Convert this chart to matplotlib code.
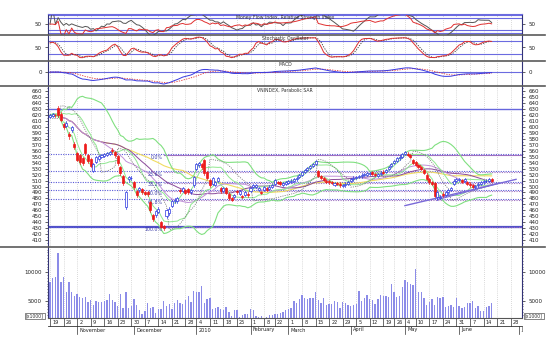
import numpy as np
import pandas as pd
import matplotlib.pyplot as plt
from matplotlib.lines import Line2D
from matplotlib.patches import Rectangle

# daily VNINDEX bars, 19 Oct 2009 .. 17 Jun 2010
opens = [
    616, 618, 620, 632, 622, 604, 602, 588, 594, 572,
    556, 553, 548, 571, 552, 546, 526, 541, 546, 549,
    551, 553, 555, 562, 558, 551, 532, 518, 465, 512,
    514, 507, 492, 494, 496, 491, 490, 474, 452, 452,
    458, 441, 434, 450, 456, 468, 475, 476, 494, 493,
    494, 496, 490, 502, 530, 536, 537, 544, 524, 511,
    505, 503, 510, 498, 493, 497, 488, 480, 482, 493,
    488, 484, 486, 488, 492, 499, 500, 495, 491, 494,
    497, 496, 499, 505, 508, 507, 503, 505, 506, 508,
    510, 512, 516, 520, 525, 528, 531, 534, 538, 526,
    518, 514, 510, 509, 508, 503, 506, 505, 501, 502,
    505, 509, 512, 514, 516, 517, 519, 520, 521, 524,
    521, 518, 521, 525, 524, 529, 534, 539, 543, 547,
    550, 554, 555, 552, 544, 541, 536, 532, 527, 520,
    512, 508, 506, 482, 481, 488, 486, 490, 494, 505,
    509, 511, 511, 510, 508, 505, 502, 499, 502, 505,
    507, 509, 510, 512]
closes = [
    619, 621, 619, 620, 611, 600, 607, 585, 599, 566,
    545, 541, 539, 556, 542, 535, 538, 549, 551, 552,
    554, 556, 558, 559, 552, 539, 522, 506, 490, 516,
    515, 499, 486, 497, 490, 488, 487, 461, 445, 459,
    463, 433, 431, 460, 463, 476, 478, 480, 492, 497,
    489, 490, 494, 516, 538, 539, 533, 522, 514, 502,
    514, 507, 514, 492, 497, 489, 480, 478, 486, 490,
    492, 482, 490, 485, 497, 503, 502, 498, 489, 499,
    494, 500, 502, 511, 506, 505, 506, 507, 509, 510,
    512, 515, 519, 524, 528, 531, 534, 538, 543, 518,
    515, 511, 508, 507, 506, 506, 504, 502, 503, 505,
    508, 513, 515, 516, 518, 520, 521, 522, 523, 521,
    519, 521, 523, 523, 528, 533, 538, 543, 547, 550,
    554, 557, 553, 549, 539, 536, 533, 529, 523, 513,
    507, 505, 484, 491, 483, 485, 491, 494, 497, 510,
    512, 513, 508, 512, 505, 502, 500, 501, 505, 508,
    509, 510, 512, 510]
highs = [
    621, 623, 622, 635, 624, 606, 609, 592, 601, 574,
    558, 555, 550, 573, 554, 548, 540, 551, 553, 554,
    556, 558, 560, 564, 560, 553, 534, 520, 493, 518,
    517, 509, 494, 499, 498, 493, 492, 476, 454, 461,
    465, 443, 436, 462, 465, 478, 480, 482, 496, 499,
    496, 498, 496, 518, 540, 541, 539, 546, 526, 513,
    516, 509, 516, 500, 499, 499, 490, 482, 488, 495,
    494, 486, 492, 490, 499, 505, 504, 500, 493, 501,
    499, 502, 504, 513, 510, 509, 508, 509, 511, 512,
    514, 517, 521, 526, 530, 533, 536, 540, 545, 528,
    520, 516, 512, 511, 510, 508, 508, 507, 505, 507,
    510, 515, 517, 518, 520, 522, 523, 524, 525, 526,
    523, 523, 525, 527, 530, 535, 540, 545, 549, 552,
    556, 559, 557, 554, 546, 543, 538, 534, 529, 522,
    514, 510, 508, 493, 485, 490, 493, 496, 499, 512,
    514, 515, 513, 514, 510, 507, 504, 503, 507, 510,
    511, 512, 514, 514]
lows = [
    614, 616, 617, 617, 609, 597, 600, 580, 592, 563,
    542, 538, 536, 553, 539, 532, 524, 539, 544, 547,
    549, 551, 553, 556, 550, 536, 519, 503, 462, 509,
    511, 496, 483, 491, 487, 485, 484, 458, 442, 449,
    455, 430, 428, 447, 453, 465, 472, 473, 489, 490,
    487, 487, 488, 500, 527, 533, 530, 520, 512, 500,
    503, 501, 508, 489, 491, 487, 478, 476, 480, 488,
    486, 480, 484, 483, 490, 497, 498, 493, 487, 492,
    492, 494, 497, 503, 504, 503, 501, 503, 504, 506,
    508, 510, 514, 518, 523, 526, 529, 532, 536, 516,
    513, 509, 506, 505, 504, 501, 502, 500, 499, 500,
    503, 507, 510, 512, 514, 515, 517, 518, 519, 519,
    517, 516, 519, 521, 522, 527, 532, 537, 541, 545,
    548, 552, 551, 547, 537, 534, 531, 527, 521, 511,
    505, 503, 482, 477, 479, 483, 484, 488, 492, 503,
    507, 509, 506, 508, 503, 500, 498, 497, 500, 503,
    505, 507, 508, 508]
volumes = [
    8350, 8930, 9110, 13330, 8350, 9110, 6590, 8230, 6470, 5880,
    6120, 5700, 5410, 5700, 4700, 5120, 4240, 4940, 4820, 4820,
    5000, 5120, 6120, 5120, 4820, 4060, 6120, 3770, 6590, 3650,
    4060, 5240, 4240, 3360, 2600, 3180, 4530, 3770, 3830, 2890,
    3480, 3590, 5000, 4060, 4410, 3530, 4530, 5120, 4650, 4410,
    5120, 5880, 4820, 6700, 6470, 6590, 7640, 4530, 5290, 5410,
    3530, 3770, 3940, 3480, 3360, 3940, 2950, 2300, 3360, 3360,
    2070, 2480, 2600, 2650, 3480, 3360, 2300, 2070, 2300, 1900,
    2100, 2500, 2400, 2600,
    2600, 2770, 3060, 3360, 3530, 3770, 4940, 4530, 5290, 6000,
    5530, 5230, 5530, 5530, 6470, 5120, 4530, 5410, 4240, 4410,
    4410, 5000, 4820, 3650, 4700, 4530, 4240, 4060, 4240, 4410,
    6700, 5000, 5530, 6000, 5290, 5120, 4410, 5230, 6000, 5820,
    5820, 5700, 7880, 6470, 5700, 5880, 7470, 8640, 8350, 7940,
    7760, 10520, 6590, 6590, 5410, 4240, 4700, 5230, 4240, 5700,
    5410, 5700, 3940, 4060, 4240, 3830, 5530, 4060, 3770, 3830,
    4530, 4650, 4940, 3650, 4060, 3180, 3180, 3830, 4060, 4530]

fib_labels = ['0.0%', '23.6%', '38.2%', '50.0%', '61.8%', '100.0%']
fib_ratios = [0.0, 0.236, 0.382, 0.5, 0.618, 1.0]
fib_high, fib_low = 555, 433
fib2_high, fib2_low, fib2_start = 552, 432, 42
hlines = [630, 432]
trend_x = [131, 172]
trend_y = [468, 512]
trend2_x = [143, 166]
trend2_y = [478, 506]

month_names = {1: '2010', 2: 'February', 3: 'March', 4: 'April', 5: 'May',
               6: 'June', 7: 'J', 11: 'November', 12: 'December'}

# trading calendar (HOSE closed on these days)
days = pd.bdate_range('2009-10-19', '2010-07-02')
closed = pd.to_datetime(['2010-01-01', '2010-02-12', '2010-02-15', '2010-02-16',
                         '2010-02-17', '2010-02-18', '2010-02-19', '2010-04-23',
                         '2010-04-30', '2010-05-03'])
days = days[~days.isin(closed)]

o = pd.Series(opens, dtype=float)
c = pd.Series(closes, dtype=float)
h = pd.Series(highs, dtype=float)
l = pd.Series(lows, dtype=float)
v = pd.Series(volumes, dtype=float)
n = len(c)
x = np.arange(n)

# indicators
def ema(s, span):
    return s.ewm(span=span, adjust=False).mean()

delta = c.diff().fillna(0)
up = delta.clip(lower=0).ewm(alpha=1/14, adjust=False).mean()
dn = (-delta.clip(upper=0)).ewm(alpha=1/14, adjust=False).mean()
rsi = 100 - 100 / (1 + up / dn.replace(0, np.nan))
rsi = rsi.fillna(50)

tp = (h + l + c) / 3
mf = tp * v
pos = mf.where(tp > tp.shift(1), 0).rolling(14, min_periods=1).sum()
neg = mf.where(tp < tp.shift(1), 0).rolling(14, min_periods=1).sum()
mfi = (100 * pos / (pos + neg)).fillna(50)

ll = l.rolling(14, min_periods=1).min()
hh = h.rolling(14, min_periods=1).max()
fast_k = 100 * (c - ll) / (hh - ll)
stoch_k = fast_k.rolling(3, min_periods=1).mean()
stoch_d = stoch_k.rolling(3, min_periods=1).mean()

macd = ema(c, 12) - ema(c, 26)
signal = ema(macd, 9)

mid = c.rolling(20, min_periods=1).mean()
sd = c.rolling(20, min_periods=1).std(ddof=0).fillna(0)
mid10 = c.rolling(10, min_periods=1).mean()
sd10 = c.rolling(10, min_periods=1).std(ddof=0).fillna(0)
ma30 = c.rolling(30, min_periods=1).mean()
ma50 = c.rolling(50, min_periods=1).mean()


def parabolic_sar(hi, lo, step=0.02, amax=0.2):
    hi, lo = hi.values, lo.values
    sar = np.zeros(len(hi))
    bull = False
    ep = lo[0]
    af = step
    sar[0] = hi[0]
    for i in range(1, len(hi)):
        s = sar[i-1] + af * (ep - sar[i-1])
        if bull:
            s = min(s, lo[i-1], lo[max(i-2, 0)])
            if lo[i] < s:
                bull, s, ep, af = False, ep, lo[i], step
            elif hi[i] > ep:
                ep, af = hi[i], min(af + step, amax)
        else:
            s = max(s, hi[i-1], hi[max(i-2, 0)])
            if hi[i] > s:
                bull, s, ep, af = True, ep, hi[i], step
            elif lo[i] < ep:
                ep, af = lo[i], min(af + step, amax)
        sar[i] = s
    return sar

sar = parabolic_sar(h, l)

# layout in pixels
W, H = 557, 345
fig = plt.figure(figsize=(W / 100, H / 100), dpi=100)
plt.rcParams['font.family'] = 'DejaVu Sans'
L, R = 48, 522
XMIN, XMAX = -0.74, 174.2


def panel(top, bottom):
    ax = fig.add_axes([L / W, 1 - bottom / H, (R - L) / W, (bottom - top) / H])
    ax.set_xlim(XMIN, XMAX)
    for s in ['top', 'bottom']:
        ax.spines[s].set_visible(False)
    for s in ['left', 'right']:
        ax.spines[s].set_color('#333377')
        ax.spines[s].set_linewidth(0.8)
    ax.tick_params(axis='y', labelsize=4, colors='#222222', length=2, width=0.5,
                   left=True, right=True, labelleft=True, labelright=True, pad=2.5)
    ax.tick_params(axis='x', bottom=False, labelbottom=False)
    ax.set_facecolor('white')
    return ax

ax_mfi = panel(14, 34.5)
ax_sto = panel(34.5, 60.5)
ax_mac = panel(60.5, 85.5)
ax_p = panel(85.5, 247)
ax_v = panel(247, 318)
axes = [ax_mfi, ax_sto, ax_mac, ax_p, ax_v]

# weekly ticks and month starts
wk = pd.Series(np.arange(len(days)), index=days)
week_first = wk.groupby(days.to_period('W')).min().values
month_first = wk.groupby(days.to_period('M')).min()
week_first = [i for i in week_first if i <= XMAX]

for ax in axes:
    for i in week_first:
        ax.axvline(i, color='#b5b5b5', lw=0.5, ls=(0, (1, 2)), zorder=0)

grid_blue = '#6b6be0'

# Money flow / RSI
ax_mfi.set_ylim(16, 83)
ax_mfi.spines['top'].set_visible(True)
ax_mfi.spines['top'].set_color(grid_blue)
for lv in [80, 70, 30, 20]:
    ax_mfi.axhline(lv, color=grid_blue, lw=0.8, zorder=1)
ax_mfi.plot(x, mfi, color='#555555', lw=0.7)
ax_mfi.plot(x, rsi, color='#e03030', lw=0.7)
ax_mfi.set_yticks([50])
ax_mfi.text(0.5, 0.93, 'Money Flow Index, Relative Strength Index', transform=ax_mfi.transAxes,
            ha='center', va='top', fontsize=3.3, color='#333333')

# Stochastic
ax_sto.set_ylim(-10, 110)
for lv in [80, 20]:
    ax_sto.axhline(lv, color=grid_blue, lw=0.8, zorder=1)
ax_sto.plot(x, stoch_d, color='#333333', lw=0.6, ls=(0, (1.5, 1.5)))
ax_sto.plot(x, stoch_k, color='#e03030', lw=0.7)
ax_sto.set_yticks([50])
ax_sto.text(0.5, 0.96, 'Stochastic Oscillator', transform=ax_sto.transAxes,
            ha='center', va='top', fontsize=3.3, color='#333333')

# MACD
lo = macd.min() * 1.12
ax_mac.set_ylim(lo, -lo * 0.46 / 0.54)
ax_mac.axhline(0, color=grid_blue, lw=0.8, zorder=1)
ax_mac.plot(x, signal, color='#e03030', lw=0.6, ls=(0, (1.5, 1.5)))
ax_mac.plot(x, macd, color='#3a3ae0', lw=0.7)
ax_mac.set_yticks([0])
ax_mac.text(0.5, 0.96, 'MACD', transform=ax_mac.transAxes,
            ha='center', va='top', fontsize=3.3, color='#333333')

# price panel
ax_p.set_ylim(398.7, 669.2)
ax_p.set_yticks(np.arange(410, 661, 10))
ax_p.set_yticks(np.arange(405, 666, 5), minor=True)
ax_p.tick_params(axis='y', which='minor', length=1, width=0.4, left=True, right=True)
ax_p.axhline(hlines[0], color='#6666dd', lw=1.0, zorder=1)
ax_p.axhline(hlines[1], color='#5050c8', lw=1.6, zorder=1)

for lab, r in zip(fib_labels, fib_ratios):
    lv = fib_high - r * (fib_high - fib_low)
    ax_p.axhline(lv, color='#5a5ad8', lw=0.8, ls=(0, (1, 1.2)), zorder=1)
    ax_p.text(41.5, lv - 1.5, lab, ha='right', va='top', fontsize=3.4, color='#3c3ca8')
for r in fib_ratios:
    lv = fib2_high - r * (fib2_high - fib2_low)
    ax_p.plot([fib2_start, XMAX], [lv, lv], color='#a070c0', lw=0.8,
              ls='-' if r == 0 else (0, (1, 1.2)), zorder=1)

ax_p.plot(x, ma50, color='#f0dc60', lw=0.8)
ax_p.plot(x, ma30, color='#8a4a9a', lw=0.7)
ax_p.plot(x, mid, color='#c090d8', lw=0.7)
ax_p.plot(x, mid + 2 * sd, color='#80e080', lw=0.8)
ax_p.plot(x, mid - 2 * sd, color='#80e080', lw=0.8)
ax_p.plot(x, mid10 + sd10, color='#90e890', lw=0.7)
ax_p.plot(x, mid10 - sd10, color='#90e890', lw=0.7)
ax_p.plot(x, sar, color='#707070', lw=0.6, ls=(0, (1.2, 1.5)))
ax_p.plot(trend_x, trend_y, color='#7a6ad8', lw=1.0)
ax_p.plot(trend2_x, trend2_y, color='#7a6ad8', lw=0.8)

bw = 0.75
for i in x:
    up_bar = c[i] >= o[i]
    col = '#2a35e0' if up_bar else '#ee1a1a'
    ax_p.plot([i, i], [l[i], h[i]], color=col, lw=0.5, zorder=3)
    bot = min(o[i], c[i])
    ht = max(abs(c[i] - o[i]), 0.8)
    ax_p.add_patch(Rectangle((i - bw / 2, bot), bw, ht, zorder=4, lw=0.5,
                             facecolor='white' if up_bar else col, edgecolor=col))
ax_p.text(0.5, 0.985, 'VNINDEX, Parabolic SAR', transform=ax_p.transAxes,
          ha='center', va='top', fontsize=3.3, color='#333333')

# volume
ax_v.set_ylim(1950, 14450)
ax_v.bar(x, v, width=0.5, color='#8c8ce8', edgecolor='none')
ax_v.set_yticks([5000, 10000])
ax_v.set_yticks(np.arange(2500, 14001, 500), minor=True)
ax_v.tick_params(axis='y', which='minor', length=1, width=0.4, left=True, right=True)
ax_v.spines['bottom'].set_visible(True)
ax_v.spines['bottom'].set_color('#555555')
for xx in [35, 534]:
    fig.text(xx / W, 1 - 316 / H, '[x1000]', ha='center', va='center', fontsize=3.3,
             color='#333333',
             bbox=dict(boxstyle='square,pad=0.15', fc='white', ec='#555555', lw=0.5))

# date rows under the volume panel
tr = ax_v.get_xaxis_transform()
px = 1 / 71
for i in week_first:
    ax_v.plot([i, i], [0, -8 * px], transform=tr, color='#333333', lw=0.5, clip_on=False)
    ax_v.text(i + 0.8, -4 * px, str(days[i].day), transform=tr, ha='left', va='center',
              fontsize=3.6, color='#222222', clip_on=False)
ax_v.plot([XMIN, XMAX], [-8 * px, -8 * px], transform=tr, color='#333333', lw=0.6,
          clip_on=False)
for per, i in month_first.items():
    if per.month == 10 or i > XMAX:
        continue
    ax_v.plot([i, i], [-8 * px, -16 * px], transform=tr, color='#333333', lw=0.5,
              clip_on=False)
    ax_v.text(i + 0.8, -12 * px, month_names[per.month], transform=tr, ha='left',
              va='center', fontsize=3.6, color='#222222', clip_on=False)

# panel separators
for y in [34.5, 60.5, 85.5, 247]:
    fig.add_artist(Line2D([0, 545 / W], [1 - y / H, 1 - y / H], color='#5a5a5a', lw=1.2))

fig.savefig('out.png', dpi=100, facecolor='white')
